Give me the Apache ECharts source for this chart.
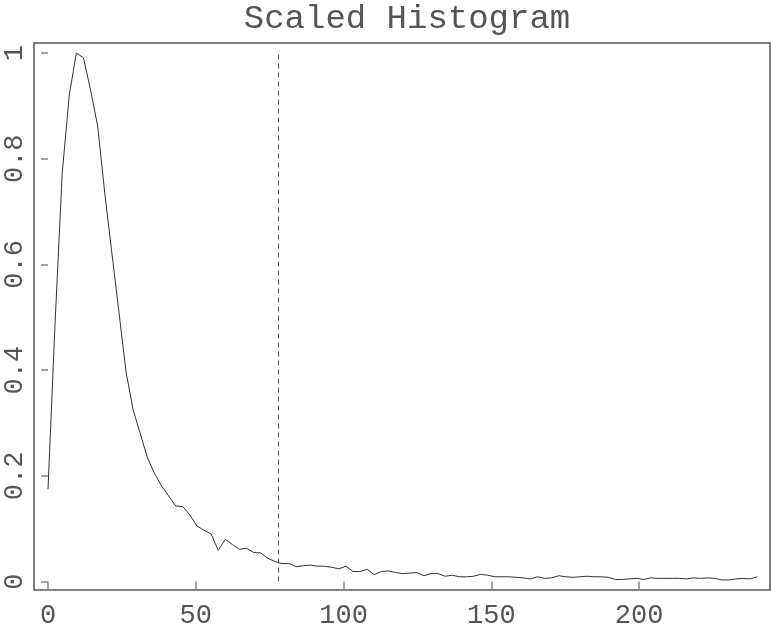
<!DOCTYPE html>
<html>
<head>
<meta charset="utf-8">
<script src="https://cdn.jsdelivr.net/npm/echarts@6/dist/echarts.min.js"></script>
<style>
html,body{margin:0;padding:0;background:#fff;}
#chart{width:772px;height:629px;}
</style>
</head>
<body>
<div id="chart"></div>
<script>
const titleText = 'Scaled Histogram';
const binCenters = [
  0, 2.4, 4.8, 7.2, 9.6, 12, 14.4, 16.8, 19.2, 21.6,
  24, 26.4, 28.8, 31.2, 33.6, 36, 38.4, 40.8, 43.2, 45.6,
  48, 50.4, 52.8, 55.2, 57.6, 60, 62.4, 64.8, 67.2, 69.6,
  72, 74.4, 76.8, 79.2, 81.6, 84, 86.4, 88.8, 91.2, 93.6,
  96, 98.4, 100.8, 103.2, 105.6, 108, 110.4, 112.8, 115.2, 117.6,
  120, 122.4, 124.8, 127.2, 129.6, 132, 134.4, 136.8, 139.2, 141.6,
  144, 146.4, 148.8, 151.2, 153.6, 156, 158.4, 160.8, 163.2, 165.6,
  168, 170.4, 172.8, 175.2, 177.6, 180, 182.4, 184.8, 187.2, 189.6,
  192, 194.4, 196.8, 199.2, 201.6, 204, 206.4, 208.8, 211.2, 213.6,
  216, 218.4, 220.8, 223.2, 225.6, 228, 230.4, 232.8, 235.2, 237.6,
  240
];
const scaledCounts = [
  0.175, 0.49, 0.772, 0.921, 1.0, 0.991, 0.93, 0.862, 0.735, 0.622,
  0.51, 0.397, 0.325, 0.28, 0.235, 0.205, 0.181, 0.162, 0.143, 0.142,
  0.126, 0.105, 0.097, 0.09, 0.059, 0.080, 0.070, 0.061, 0.063, 0.055,
  0.054, 0.044, 0.038, 0.034, 0.034, 0.028, 0.030, 0.031, 0.029, 0.029,
  0.027, 0.024, 0.029, 0.019, 0.019, 0.023, 0.013, 0.019, 0.020, 0.017,
  0.015, 0.016, 0.017, 0.011, 0.015, 0.015, 0.010, 0.012, 0.009, 0.009,
  0.010, 0.0135, 0.012, 0.009, 0.009, 0.009, 0.008, 0.007, 0.005, 0.009,
  0.006, 0.007, 0.011, 0.009, 0.008, 0.009, 0.010, 0.009, 0.009, 0.008,
  0.004, 0.004, 0.005, 0.006, 0.004, 0.007, 0.006, 0.006, 0.006, 0.006,
  0.005, 0.007, 0.006, 0.007, 0.006, 0.003, 0.003, 0.005, 0.006, 0.005,
  0.009
];
const cutoffX = 78;
const cutoffYRange = [0, 1];
const xTickLabels = [0, 50, 100, 150, 200];
const yTickLabels = [0, 0.2, 0.4, 0.6, 0.8, 1];

const lineData = binCenters.map((x, i) => [x, scaledCounts[i]]);
const cutoffData = cutoffYRange.map(y => [cutoffX, y]);

const chart = echarts.init(document.getElementById('chart'), null, {renderer: 'canvas'});
const fontFam = '"Liberation Mono", "DejaVu Sans Mono", monospace';
chart.setOption({
  animation: false,
  backgroundColor: '#ffffff',
  title: {
    text: titleText,
    left: 402,
    textAlign: 'center',
    top: -3,
    textStyle: {fontFamily: fontFam, fontSize: 34, fontWeight: 'normal', color: '#555'}
  },
  grid: {
    left: 34, top: 43, width: 736, height: 552,
    show: true, borderColor: '#555', borderWidth: 1.5, backgroundColor: 'transparent'
  },
  xAxis: {
    type: 'value',
    min: -4.74, max: 244.3,
    axisLine: {show: false},
    splitLine: {show: false},
    axisTick: {show: true, length: 9, lineStyle: {color: '#888', width: 1.5}, customValues: xTickLabels},
    axisLabel: {
      customValues: xTickLabels,
      margin: 12,
      fontFamily: fontFam, fontSize: 27, color: '#555',
      showMinLabel: true, showMaxLabel: true
    }
  },
  yAxis: {
    type: 'value',
    min: -0.016, max: 1.019,
    axisLine: {show: false},
    splitLine: {show: false},
    axisTick: {show: true, length: 7, lineStyle: {color: '#888', width: 1.5}, customValues: yTickLabels},
    axisLabel: {
      customValues: yTickLabels,
      rotate: 90,
      margin: 6,
      fontFamily: fontFam, fontSize: 27, color: '#555'
    }
  },
  series: [
    {
      type: 'line',
      data: lineData,
      showSymbol: false,
      symbol: 'none',
      lineStyle: {color: '#333', width: 1},
      silent: true
    },
    {
      type: 'line',
      data: cutoffData,
      showSymbol: false,
      symbol: 'none',
      lineStyle: {color: '#555', width: 1, type: [5, 4]},
      silent: true
    }
  ]
});
</script>
</body>
</html>
